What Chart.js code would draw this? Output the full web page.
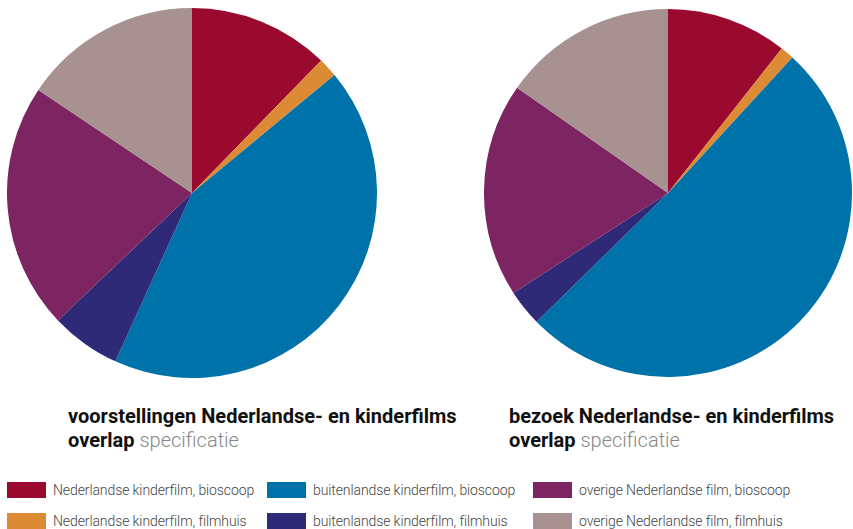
<!DOCTYPE html>
<html>
<head>
<meta charset="utf-8">
<script src="https://cdn.jsdelivr.net/npm/chart.js@4"></script>
<style>
  body { margin: 0; width: 853px; height: 529px; overflow: hidden; background: #fff; font-family: Roboto, sans-serif; position: relative; }
  .pie { position: absolute; }
  .title { position: absolute; font-size: 20px; line-height: 24px; color: #111; }
  .title b { font-weight: 700; }
  .title span { font-weight: 300; color: #888; }
  .leg { position: absolute; height: 16px; font-size: 14px; font-weight: 300; color: #444; line-height: 16px; white-space: nowrap; letter-spacing: -0.1px; }
  .leg i { position: absolute; left: 0; top: 0; width: 39px; height: 16px; }
  .leg em { position: absolute; top: 0; font-style: normal; }
</style>
</head>
<body>
<div class="pie" style="left:7px;top:8px;width:370px;height:370px"><canvas id="pie1"></canvas></div>
<div class="pie" style="left:484px;top:9px;width:368px;height:368px"><canvas id="pie2"></canvas></div>

<div class="title" style="left:68px;top:404px"><b>voorstellingen Nederlandse- en kinderfilms</b><br><b>overlap</b> <span>specificatie</span></div>
<div class="title" style="left:509px;top:404px"><b>bezoek Nederlandse- en kinderfilms</b><br><b>overlap</b> <span>specificatie</span></div>

<div id="legend"></div>

<script>
const categories = [
  'Nederlandse kinderfilm, bioscoop',
  'Nederlandse kinderfilm, filmhuis',
  'buitenlandse kinderfilm, bioscoop',
  'buitenlandse kinderfilm, filmhuis',
  'overige Nederlandse film, bioscoop',
  'overige Nederlandse film, filmhuis'
];
const voorstellingen = [12.3, 1.7, 42.8, 6.1, 21.5, 15.6];
const bezoek = [10.6, 1.2, 50.8, 3.2, 18.8, 15.3];
const colors = ['#9a0a2e', '#dc8a34', '#0072aa', '#2f2a77', '#7d2562', '#a89191'];

function makePie(id, values){
    new Chart(document.getElementById(id), {
        type: 'pie',
        data: {
            labels: categories,
            datasets: [{
                data: values,
                backgroundColor: colors,
                borderWidth: 0
            }]
        },
        options: {
            animation: false,
            responsive: true,
            maintainAspectRatio: false,
            layout: { padding: 0 },
            plugins: { legend: { display: false }, tooltip: { enabled: false } }
        }
    });
}
makePie('pie1', voorstellingen);
makePie('pie2', bezoek);

// legend, column-major in 3 columns of 2
const colX = [7, 267, 533];
const rowY = [482, 513];
const legend = document.getElementById('legend');
categories.forEach(function(c, i){
    const d = document.createElement('div');
    d.className = 'leg';
    d.style.left = colX[Math.floor(i / 2)] + 'px';
    d.style.top = rowY[i % 2] + 'px';
    d.innerHTML = '<i style="background:' + colors[i] + '"></i><em style="left:46px">' + c + '</em>';
    legend.appendChild(d);
});
</script>
</body>
</html>
